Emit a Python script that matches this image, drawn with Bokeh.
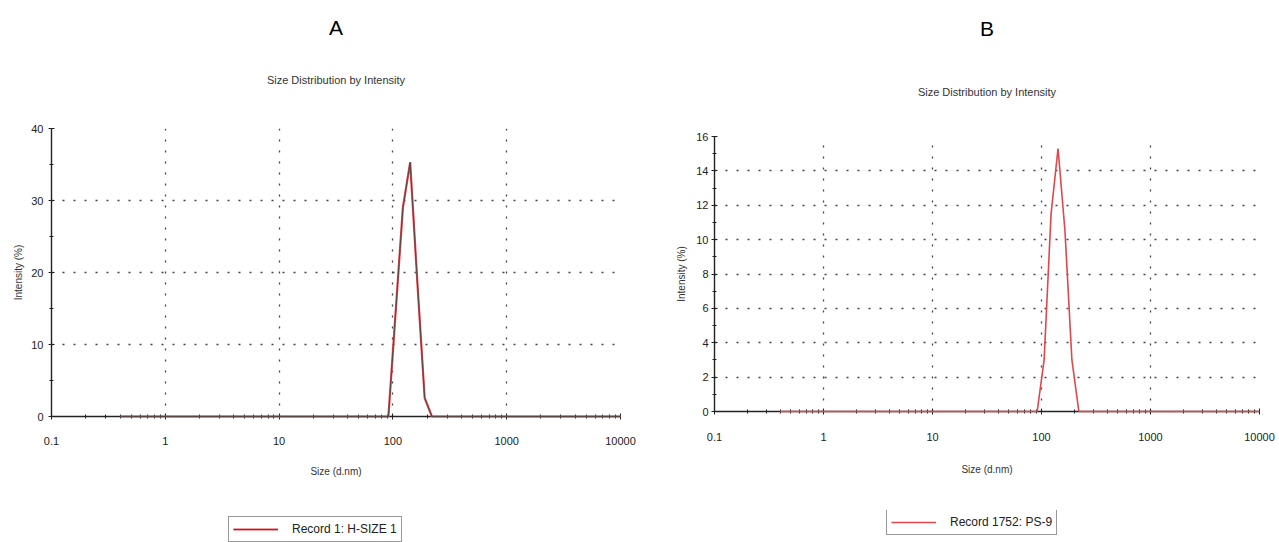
from bokeh.plotting import figure
from bokeh.layouts import row, column
from bokeh.models import Range1d, Title, Legend, LegendItem, FixedTicker
from bokeh.embed import file_html
from bokeh.resources import INLINE

# ---------------- data ----------------
panel_letters = ["A", "B"]
chart_title = "Size Distribution by Intensity"
x_label = "Size (d.nm)"
y_label = "Intensity (%)"

x_ticks = [0.1, 1, 10, 100, 1000, 10000]
x_tick_labels = ["0.1", "1", "10", "100", "1000", "10000"]

a_y_ticks = [0, 10, 20, 30, 40]
a_y_minor = [5, 15, 25, 35]
b_y_ticks = [0, 2, 4, 6, 8, 10, 12, 14, 16]
b_y_minor = [1, 3, 5, 7, 9, 11, 13, 15]

a_size = [0.4, 91.28, 105.7, 122.4, 141.8, 164.2, 190.1, 220.2, 10000]
a_intensity = [0, 0, 14.5, 29.0, 35.3, 18.5, 2.6, 0, 0]
a_record = "Record 1: H-SIZE 1"

b_size = [0.4, 91.28, 105.7, 122.4, 141.8, 164.2, 190.1, 220.2, 10000]
b_intensity = [0, 0, 3.0, 11.5, 15.3, 10.5, 3.0, 0, 0]
b_record = "Record 1752: PS-9"

FONT = "Liberation Sans"
LINE_RED = "#e0474c"
DARK = "#5a4545"

x_minor = [m * d for d in [0.1, 1, 10, 100, 1000] for m in range(2, 10)]


def add_series(fig, xs, ys, dark, level="glyph"):
    rs = []
    if dark:
        rs.append(fig.line(xs, ys, line_color=LINE_RED, line_width=2.2, level=level))
        rs.append(fig.line(xs, ys, line_color=DARK, line_width=1.0, level=level))
    else:
        rs.append(fig.line(xs, ys, line_color=LINE_RED, line_width=1.6, level=level))
    return rs


def make_panel(letter, xs, ys, yticks, yminor, ymax, cfg):
    p = figure(width=cfg["w"], height=cfg["h"], x_axis_type="log",
               x_range=Range1d(0.1, 10000), y_range=Range1d(0, ymax),
               output_backend="svg", toolbar_location=None,
               min_border_left=cfg["bl"], min_border_right=cfg["br"],
               min_border_top=128, min_border_bottom=94)
    if cfg.get("margin"):
        p.margin = cfg["margin"]
    p.outline_line_color = None
    p.background_fill_color = "white"
    p.border_fill_color = "white"

    add_series(p, xs, ys, cfg.get("dark", False), level="overlay")

    # axes
    p.xaxis.ticker = FixedTicker(ticks=x_ticks, minor_ticks=x_minor)
    p.xaxis.major_label_overrides = dict(zip(x_ticks, x_tick_labels))
    p.yaxis.ticker = FixedTicker(ticks=yticks, minor_ticks=yminor)
    for ax in (p.xaxis[0], p.yaxis[0]):
        ax.axis_line_color = "#222222"
        ax.axis_line_width = 1.4
        ax.major_tick_line_color = "#222222"
        ax.minor_tick_line_color = "#222222"
        ax.major_tick_in = 3
        ax.major_tick_out = 3
        ax.minor_tick_in = 2
        ax.minor_tick_out = 2
        ax.major_label_text_font = FONT
        ax.major_label_text_font_size = "11px"
        ax.major_label_text_color = "#222222"
        ax.axis_label_text_font = FONT
        ax.axis_label_text_font_size = "10px"
        ax.axis_label_text_font_style = "normal"
        ax.axis_label_text_color = "#333333"
    p.xaxis.axis_label = x_label
    p.yaxis.axis_label = y_label
    p.xaxis.major_label_standoff = cfg["xls"]
    p.xaxis.axis_label_standoff = cfg["xas"]
    p.yaxis.major_label_standoff = cfg["yls"]
    p.yaxis.axis_label_standoff = cfg["yas"]

    # grid
    for g in (p.xgrid[0], p.ygrid[0]):
        g.grid_line_color = "#444444"
        g.grid_line_dash = "2 9"
        g.grid_line_width = 1.3
    p.xgrid.ticker = FixedTicker(ticks=x_ticks)
    p.ygrid.ticker = FixedTicker(ticks=yticks)

    # titles (stacked outward from the frame)
    if cfg["top_spacer"] is not None:
        p.add_layout(Title(text=" ", text_font_size="10px",
                           standoff=cfg["top_spacer"]), "above")
    p.add_layout(Title(text=chart_title, align="center", text_font=FONT,
                       text_font_size="11px", text_font_style="normal",
                       text_color="#333333", offset=cfg["t_off"],
                       standoff=cfg["t_so"]), "above")
    p.add_layout(Title(text=letter, align="center", text_font=FONT,
                       text_font_size="21px", text_font_style="normal",
                       text_color="black", offset=cfg["l_off"],
                       standoff=cfg["l_so"]), "above")
    return p


def make_legend_strip(record, xs, ys, cfg):
    # the series is drawn out of this strip's view; only its legend shows
    q = figure(width=cfg["w"], height=32, x_range=Range1d(0, 1),
               y_range=Range1d(-2, -1), output_backend="svg",
               toolbar_location=None, x_axis_location=None,
               y_axis_location=None,
               min_border_left=cfg["bl"], min_border_right=cfg["br"],
               min_border_top=0, min_border_bottom=0)
    q.outline_line_color = None
    q.grid.visible = False
    q.background_fill_color = "white"
    q.border_fill_color = "white"
    rs = add_series(q, xs, ys, cfg.get("dark", False))
    leg = Legend(items=[LegendItem(label=record, renderers=rs)],
                 location=cfg["leg_loc"], orientation="vertical",
                 glyph_width=45, glyph_height=16, label_height=16,
                 label_standoff=14, padding=4, spacing=0, margin=0,
                 border_line_color="#333333", border_line_width=1,
                 label_text_font=FONT, label_text_font_size="12px",
                 label_text_color="#222222", background_fill_alpha=1)
    q.add_layout(leg, "center")
    return q


cfgA = dict(w=640, h=510, bl=51, br=20, xls=17, xas=18, yls=5, yas=4,
            top_spacer=8, t_so=43, t_off=-15, l_so=24, l_off=-22,
            dark=True, leg_loc=(177, 0))
cfgB = dict(w=639, h=497, bl=74, br=20, xls=18, xas=20, yls=3, yas=6,
            top_spacer=None, t_so=77, t_off=-15, l_so=12, l_off=-21,
            leg_loc=(172, 7), margin=(8, 0, 0, 0))

pA = make_panel(panel_letters[0], a_size, a_intensity,
                a_y_ticks, a_y_minor, 40, cfgA)
pB = make_panel(panel_letters[1], b_size, b_intensity,
                b_y_ticks, b_y_minor, 16, cfgB)
lA = make_legend_strip(a_record, a_size, a_intensity, cfgA)
lB = make_legend_strip(b_record, b_size, b_intensity, cfgB)

layout = column(row(pA, pB, spacing=0), row(lA, lB, spacing=0), spacing=0)
open("out.html", "w").write(file_html(layout, INLINE))
